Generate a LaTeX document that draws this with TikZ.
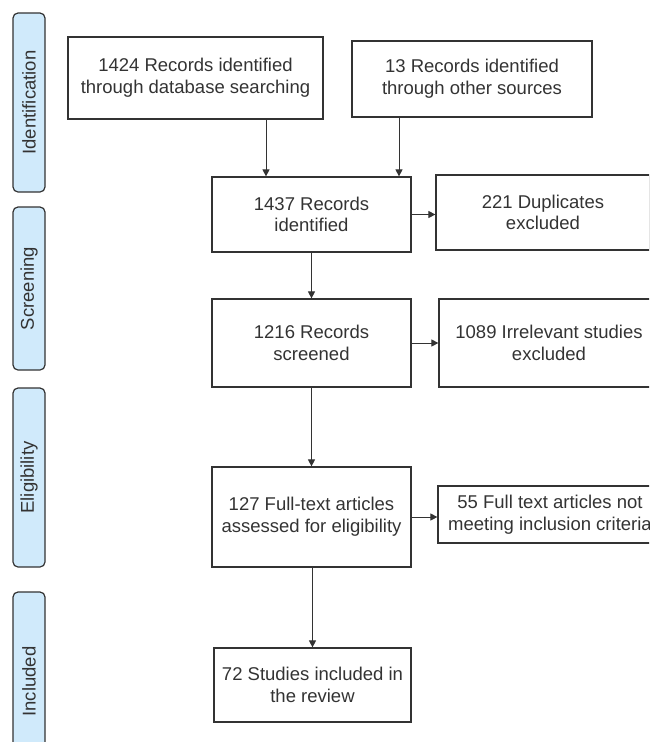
\documentclass[tikz,border=0pt]{standalone}
\usepackage{fontspec}
\setmainfont{Liberation Sans}
\usepackage{xcolor}
\usepackage{tikz}
\usetikzlibrary{positioning,arrows.meta}
\definecolor{stageBlue}{HTML}{D0EAFB}
\definecolor{lineGray}{HTML}{333333}

\begin{document}
\begin{tikzpicture}[x=1pt,y=-1pt,font=\fontsize{18.5}{21.7}\selectfont,
      box/.style={draw=lineGray,line width=1.2pt,text=lineGray,align=center,inner sep=0pt},
      stage/.style={draw=lineGray,line width=1.2pt,rounded corners=5pt,fill=stageBlue,text=lineGray,
        rotate=90,minimum height=32pt,inner sep=0pt},
      arr/.style={-{Triangle[length=7pt,width=7pt]},line width=0.9pt,draw=lineGray}
    ]
    \useasboundingbox (0,0) rectangle (649,742);
    \clip (0,0) rectangle (649,742);

    % phases on the left
    \node[stage,minimum width=179pt] (sIdent) at (29,102.5) {Identification};
    \node[stage,minimum width=163pt] (sScreen) at (29,288.5) {Screening};
    \node[stage,minimum width=179pt] (sElig) at (29,477.5) {Eligibility};
    \node[stage,minimum width=179pt] (sIncl) at (29,681.5) {Included};

    \node[box,minimum width=255pt,minimum height=82pt] (rec1424) at (195.5,78) {1424 Records identified \\ through database searching};
    \node[box,minimum width=240pt,minimum height=76pt] (rec13) at (472,79) {13 Records identified \\ through other sources};

    \node[box,minimum width=199pt,minimum height=75pt] (rec1437) at (311.5,214.5) {1437 Records \\ identified};
    \node[box,minimum width=214pt,minimum height=75pt] (dup221) at (543,212.5) {221 Duplicates \\ excluded};

    \node[box,minimum width=199pt,minimum height=88pt] (rec1216) at (311.5,343) {1216 Records \\ screened};
    \node[box,minimum width=220pt,minimum height=88pt] (irr1089) at (549,343) {1089 Irrelevant studies \\ excluded};

    \node[box,minimum width=199pt,minimum height=100pt] (full127) at (311.5,517) {127 Full-text articles \\ assessed for eligibility};
    \node[box,minimum width=224pt,minimum height=57pt] (full55) at (550,514.5) {55 Full text articles not \\ meeting inclusion criteria};

    \node[box,minimum width=197pt,minimum height=74pt] (incl72) at (312.5,685) {72 Studies included in \\ the review};

    \coordinate (inA) at (266,0);
    \coordinate (inB) at (399,0);
    \draw[arr] (rec1424.south -| inA) -- (rec1437.north -| inA);
    \draw[arr] (rec13.south -| inB) -- (rec1437.north -| inB);
    \draw[arr] (rec1437.east) -- (dup221.west |- rec1437.east);
    \draw[arr] (rec1437) -- (rec1216);
    \draw[arr] (rec1216) -- (irr1089);
    \draw[arr] (rec1216) -- (full127);
    \draw[arr] (full127.east) -- (full55.west |- full127.east);
    \draw[arr] (full127.south -| incl72) -- (incl72);
\end{tikzpicture}
\end{document}
